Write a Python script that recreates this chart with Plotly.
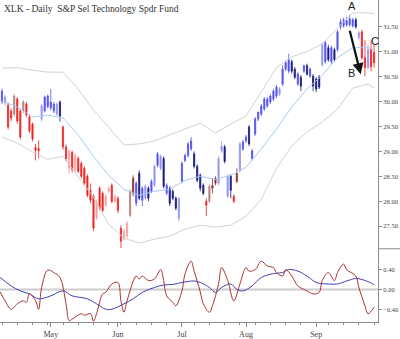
import plotly.graph_objects as go

# ---------------- data ----------------
bar_index = list(range(123))

opens = [30.00, 29.97, 29.93, 29.81, 29.75, 30.05, 29.81, 29.81, 29.95, 29.69,
         29.55, 29.08, 29.06, 29.65, 29.81, 29.90, 29.87, 29.81, 29.75, 29.99,
         29.49, 29.09, 28.66, 28.98, 28.62, 28.86, 28.76, 28.66, 28.50, 28.22,
         28.10, 27.66, 28.26, 28.16, 27.92, 28.20, 28.32, 28.00, 28.06, 27.46,
         27.24, 27.30, 27.72, 28.46, 27.96, 28.56, 28.02, 28.06, 28.26, 28.20,
         28.32, 28.72, 28.66, 28.86, 28.16, 28.26, 28.20, 28.06, 27.66, 28.40,
         28.82, 28.92, 29.05, 28.95, 28.70, 28.52, 28.32, 28.00, 28.00, 28.32,
         28.46, 28.36, 29.01, 29.09, 28.10, 28.50, 28.10, 28.56, 28.62, 29.05,
         29.21, 29.49, 28.86, 29.35, 29.65, 29.75, 29.85, 29.91, 29.99, 30.05,
         30.11, 30.15, 30.35, 30.65, 30.61, 30.80, 30.65, 30.35, 30.49, 30.61,
         30.72, 30.51, 30.51, 30.45, 30.49, 30.74, 30.80, 31.08, 30.80, 31.04,
         31.04, 31.50, 31.52, 31.54, 31.54, 31.52, 31.64, 31.28, 31.40, 30.88,
         30.68, 31.04, 30.98]
highs = [30.26, 30.13, 29.98, 29.86, 30.15, 30.09, 29.86, 30.03, 29.99, 29.74,
         29.58, 29.15, 29.22, 29.95, 30.12, 30.14, 30.25, 29.99, 29.98, 30.02,
         29.52, 29.14, 29.04, 29.02, 28.96, 28.90, 28.80, 28.70, 28.54, 28.36,
         28.14, 28.04, 28.30, 28.20, 28.14, 28.30, 28.36, 28.14, 28.10, 27.52,
         27.45, 27.60, 28.24, 28.52, 28.40, 28.62, 28.30, 28.34, 28.30, 28.44,
         28.74, 28.99, 28.94, 28.90, 28.36, 28.30, 28.24, 28.10, 28.08, 28.80,
         28.96, 29.19, 29.29, 29.00, 28.74, 28.56, 28.36, 28.06, 28.34, 28.46,
         28.50, 28.90, 29.21, 29.13, 28.54, 28.54, 28.14, 28.66, 29.19, 29.23,
         29.33, 29.53, 29.05, 29.69, 29.79, 29.95, 30.09, 30.09, 30.15, 30.25,
         30.33, 30.29, 30.73, 30.82, 30.96, 30.84, 30.69, 30.59, 30.53, 30.74,
         30.76, 30.69, 30.55, 30.49, 30.53, 31.18, 31.22, 31.14, 31.12, 31.08,
         31.44, 31.66, 31.68, 31.70, 31.74, 31.68, 31.68, 31.42, 31.44, 31.24,
         31.14, 31.24, 31.14]
lows = [29.95, 29.92, 29.44, 29.60, 29.70, 29.56, 29.24, 29.77, 29.68, 29.37,
        29.20, 28.82, 28.86, 29.60, 29.78, 29.86, 29.82, 29.77, 29.71, 29.60,
        29.03, 28.80, 28.55, 28.58, 28.58, 28.56, 28.46, 28.32, 28.08, 27.96,
        27.40, 27.62, 27.82, 27.78, 27.88, 28.16, 27.96, 27.96, 27.76, 27.06,
        27.20, 27.26, 27.68, 28.10, 27.90, 28.02, 27.90, 28.02, 28.00, 28.16,
        28.28, 28.68, 28.62, 28.26, 28.12, 27.90, 28.02, 27.82, 27.60, 28.36,
        28.78, 28.88, 29.01, 28.66, 28.38, 28.20, 28.12, 27.70, 27.96, 28.16,
        28.32, 28.32, 28.97, 28.76, 28.06, 28.06, 27.96, 28.36, 28.58, 29.01,
        29.17, 29.11, 28.82, 29.31, 29.61, 29.71, 29.81, 29.87, 29.95, 30.01,
        30.07, 30.11, 30.31, 30.61, 30.57, 30.56, 30.45, 30.31, 30.21, 30.57,
        30.52, 30.47, 30.21, 30.19, 30.25, 30.70, 30.76, 30.80, 30.76, 30.80,
        31.00, 31.44, 31.48, 31.50, 31.50, 31.48, 31.46, 31.24, 30.84, 30.51,
        30.65, 30.61, 30.68]
closes = [30.21, 30.09, 29.49, 29.67, 30.11, 29.61, 29.29, 29.99, 29.73, 29.41,
          29.25, 29.02, 29.01, 29.91, 30.09, 30.11, 29.99, 29.95, 29.95, 29.71,
          29.09, 28.86, 29.01, 28.64, 28.92, 28.60, 28.50, 28.36, 28.12, 28.02,
          27.46, 28.00, 27.86, 27.82, 28.10, 28.26, 28.00, 28.10, 27.82, 27.20,
          27.40, 27.56, 28.20, 28.16, 28.36, 28.06, 28.26, 28.30, 28.06, 28.40,
          28.70, 28.95, 28.90, 28.30, 28.32, 27.96, 28.06, 27.86, 28.06, 28.76,
          28.92, 29.15, 29.21, 28.70, 28.42, 28.26, 28.16, 27.92, 28.30, 28.26,
          28.36, 28.86, 29.11, 28.80, 28.50, 28.22, 28.00, 28.40, 29.15, 29.19,
          29.29, 29.15, 29.01, 29.65, 29.79, 29.91, 30.05, 30.05, 30.11, 30.21,
          30.29, 30.25, 30.65, 30.78, 30.84, 30.61, 30.49, 30.55, 30.31, 30.72,
          30.55, 30.65, 30.31, 30.25, 30.29, 31.14, 31.18, 30.84, 31.08, 30.84,
          31.40, 31.60, 31.64, 31.62, 31.66, 31.64, 31.50, 31.38, 30.88, 30.68,
          31.04, 30.70, 30.78]
# colour class of every candle (B blue, N navy, L light blue, R red, P pink, W brown, M maroon)
shades = ("BLRRWRRWRRRRRLBBBBLN"
          "RRPRPRRRRRRPRRPPRPRR"
          "PPWMBNBLNBLBLNBNNNLB"
          "BBBNNNNRWMMLLNLNRMLB"
          "BNBBBBBBBBBLBBBNNBNB"
          "NBNNNLBNBNBBBBBBNLRR"
          "LRR")

# bollinger-style envelope, read every five bars
band_index = [0, 5, 10, 15, 20, 25, 30, 35, 40, 45, 50, 55, 60, 65, 70, 75, 80,
              85, 90, 95, 100, 105, 110, 115, 120, 122]
band_upper = [30.67, 30.68, 30.63, 30.59, 30.59, 30.25, 29.83, 29.47, 29.13, 29.15,
              29.21, 29.33, 29.45, 29.57, 29.37, 29.55, 29.71, 30.19, 30.68, 30.90,
              31.00, 31.16, 31.48, 31.78, 31.78, 31.76]
band_middle = [30.01, 29.89, 29.69, 29.73, 29.67, 29.33, 28.90, 28.52, 28.24, 28.12,
               28.20, 28.24, 28.42, 28.50, 28.44, 28.52, 28.68, 29.05, 29.45, 29.89,
               30.25, 30.53, 30.88, 31.08, 31.08, 31.04]
band_lower = [29.29, 29.17, 28.99, 28.84, 28.90, 28.50, 28.08, 27.54, 27.26, 27.16,
              27.24, 27.30, 27.44, 27.52, 27.48, 27.52, 27.70, 28.04, 28.66, 29.11,
              29.39, 29.59, 29.85, 30.27, 30.35, 30.27]

# oscillator panel
fast_index = [-0.6, 1, 3, 5, 7, 8, 9, 11, 12, 13, 15, 17, 19, 21, 22, 23, 26, 27, 29, 30,
              31, 33, 34, 36, 38, 39, 40, 41, 44, 45, 46, 48, 50, 52, 53, 54, 56, 57, 59, 60,
              62, 63, 65, 66, 68, 69, 71, 72, 74, 76, 78, 80, 81, 83, 85, 87, 89, 90, 92, 93,
              95, 97, 99, 100, 102, 104, 105, 107, 109, 110, 112, 113, 116, 117, 119, 120, 122]
fast_values = [-0.05, -0.23, -0.40, -0.29, -0.23, -0.26, -0.09, -0.23, -0.40, 0.04,
               0.39, 0.34, 0.24, -0.29, -0.63, -0.60, -0.49, -0.52, -0.49, -0.64,
               -0.49, -0.09, -0.06, 0.11, 0.14, -0.23, -0.46, -0.23, 0.27, 0.21,
               0.27, 0.18, 0.21, 0.40, 0.18, -0.13, -0.26, -0.33, -0.03, 0.31,
               0.57, 0.37, -0.05, -0.29, -0.46, -0.33, 0.11, 0.44, 0.18, -0.23,
               0.11, 0.44, 0.37, 0.40, 0.57, 0.47, 0.44, 0.34, 0.27, 0.40,
               0.27, 0.07, 0.00, -0.03, -0.09, -0.06, 0.18, 0.34, 0.18, 0.34,
               0.51, 0.40, 0.27, 0.04, -0.33, -0.49, -0.36]
slow_index = [-0.6, 3, 6, 9, 12, 16, 20, 23, 28, 31, 34, 36, 40, 43, 46, 50, 53, 56, 59, 63,
              65, 68, 70, 72, 75, 77, 79, 82, 85, 89, 92, 94, 97, 100, 103, 107, 110, 113,
              116, 118, 121, 122]
slow_values = [0.24, 0.07, -0.03, -0.09, -0.19, -0.13, -0.03, -0.13, -0.19, -0.29,
               -0.40, -0.40, -0.29, -0.19, -0.06, 0.04, 0.09, 0.10, 0.14, 0.17,
               0.14, 0.04, -0.06, 0.04, 0.11, 0.00, -0.03, 0.07, 0.24, 0.32,
               0.34, 0.40, 0.37, 0.27, 0.14, 0.11, 0.11, 0.17, 0.22, 0.20,
               0.13, 0.09]

month_index = [16, 38, 59, 80, 103]
month_labels = ["May", "Jun", "Jul", "Aug", "Sep"]
week_index = [0, 5, 10, 15, 20, 25, 30, 35, 39, 44, 49, 54, 59, 63, 68, 73, 78, 83,
              88, 93, 98, 103, 107, 112, 117, 122]
price_ticks = [27.5, 28.0, 28.5, 29.0, 29.5, 30.0, 30.5, 31.0, 31.5]
osc_ticks = [-0.4, 0.0, 0.4]

# ---------------- figure ----------------
palette = {"B": "#5050f0", "N": "#18187c", "L": "#9494f2", "R": "#f02424",
           "P": "#f6a0a0", "W": "#b67e7e", "M": "#922e2e"}

fig = go.Figure()

band_grey = "#d2d2d2"
fig.add_trace(go.Scatter(x=band_index, y=band_upper, mode="lines",
                         line=dict(color=band_grey, width=1), hoverinfo="skip"))
fig.add_trace(go.Scatter(x=band_index, y=band_lower, mode="lines",
                         line=dict(color=band_grey, width=1), hoverinfo="skip"))
fig.add_trace(go.Scatter(x=band_index, y=band_middle, mode="lines",
                         line=dict(color="#a8caf0", width=1), hoverinfo="skip"))

for code, col in palette.items():
    sel = [i for i in bar_index if shades[i] == code]
    if not sel:
        continue
    style = dict(line=dict(color=col, width=0.8), fillcolor=col)
    fig.add_trace(go.Candlestick(
        x=sel,
        open=[opens[i] for i in sel], high=[highs[i] for i in sel],
        low=[lows[i] for i in sel], close=[closes[i] for i in sel],
        increasing=style, decreasing=style, whiskerwidth=0,
        hoverinfo="skip", xaxis="x", yaxis="y"))

fig.add_trace(go.Scatter(x=slow_index, y=slow_values, mode="lines", yaxis="y2",
                         line=dict(color="#4040b0", width=1, shape="spline"),
                         hoverinfo="skip"))
fig.add_trace(go.Scatter(x=fast_index, y=fast_values, mode="lines", yaxis="y2",
                         line=dict(color="#a83232", width=1, shape="spline"),
                         hoverinfo="skip"))

W, H = 400, 339
x_right = 378 / W
split = 1 - 251 / H
bottom = 1 - 325 / H
axis_col = "#8a8a8a"
serif = "Liberation Serif, Times New Roman, serif"

fig.update_layout(
    width=W, height=H, autosize=False,
    margin=dict(l=0, r=0, t=0, b=0, pad=0),
    paper_bgcolor="white", plot_bgcolor="white",
    showlegend=False,
    boxgap=0.45, boxgroupgap=0.3,
    xaxis=dict(domain=[0, x_right], range=[-0.656, 123.28], anchor="y2",
               rangeslider=dict(visible=False),
               showgrid=False, zeroline=False,
               showline=True, linecolor=axis_col, linewidth=1,
               tickmode="array", tickvals=month_index, ticktext=month_labels,
               ticks="outside", ticklen=4, tickcolor=axis_col, tickwidth=1,
               tickfont=dict(family=serif, size=8, color="#444"),
               minor=dict(tickmode="array", tickvals=week_index, ticks="outside",
                          ticklen=2, tickcolor=axis_col, showgrid=False)),
    yaxis=dict(domain=[split, 1], range=[27.047, 32.037], anchor="x", side="right",
               showgrid=False, zeroline=False,
               showline=True, linecolor=axis_col, linewidth=1,
               tickmode="array", tickvals=price_ticks, tickformat=".2f",
               ticks="outside", ticklen=3, tickcolor=axis_col,
               tickfont=dict(family=serif, size=6.5, color="#444")),
    yaxis2=dict(domain=[bottom, split], range=[-0.66, 0.82], anchor="x", side="right",
                showgrid=False, zeroline=False,
                showline=True, linecolor=axis_col, linewidth=1,
                tickmode="array", tickvals=osc_ticks, tickformat=".2f",
                ticks="outside", ticklen=3, tickcolor=axis_col,
                tickfont=dict(family=serif, size=6.5, color="#444")),
    shapes=[
        dict(type="line", xref="paper", yref="paper", x0=x_right, x1=1.0,
             y0=split, y1=split, line=dict(color=axis_col, width=1)),
        dict(type="line", xref="x", yref="y2", x0=-0.656, x1=123.28, y0=0, y1=0,
             line=dict(color="#cccccc", width=2), layer="below"),
    ],
    annotations=[
        dict(text="XLK - Daily\u00a0 S&P Sel Technology Spdr Fund", xref="paper", yref="paper",
             x=0.005, y=1 - 2 / H, xanchor="left", yanchor="top", showarrow=False,
             font=dict(family=serif, size=9.5, color="#333")),
        dict(text="", x=117.6, y=30.55, xref="x", yref="y", ax=113.9, ay=31.45,
             axref="x", ayref="y", showarrow=True, arrowhead=2, arrowsize=1,
             arrowwidth=2.2, arrowcolor="#111", standoff=0),
        dict(text="A", x=114.6, y=31.92, xref="x", yref="y", showarrow=False,
             font=dict(family="Liberation Sans, Arial", size=11, color="#222")),
        dict(text="B", x=114.6, y=30.57, xref="x", yref="y", showarrow=False,
             font=dict(family="Liberation Sans, Arial", size=11, color="#222")),
        dict(text="C", x=122.3, y=31.22, xref="x", yref="y", showarrow=False,
             font=dict(family="Liberation Sans, Arial", size=11, color="#222")),
    ],
)

fig.write_html("out.html")
